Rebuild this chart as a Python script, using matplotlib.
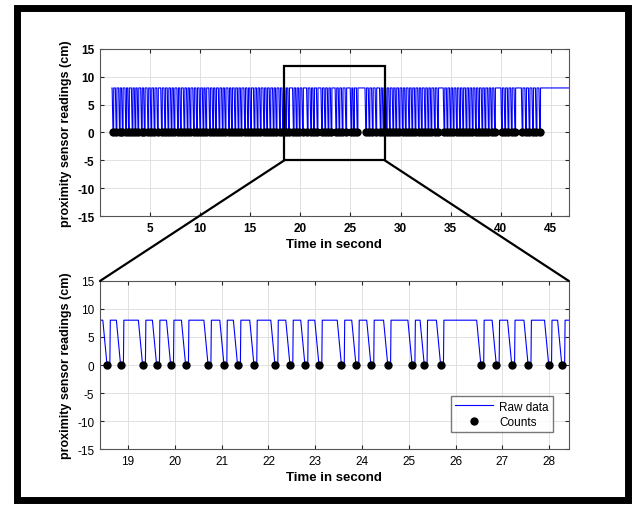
import numpy as np
import matplotlib
matplotlib.use('Agg')
import matplotlib.pyplot as plt
from matplotlib.patches import Rectangle, ConnectionPatch

plt.rcParams['font.family'] = ['Liberation Sans', 'DejaVu Sans']
plt.rcParams['axes.unicode_minus'] = False

# count events (s)
counts_a = [1.30, 1.62, 1.95, 2.24, 2.58, 2.86, 3.22, 3.51, 3.80, 4.15, 4.44,
            4.79, 5.10, 5.42, 5.75,
            6.15, 6.48, 6.80, 7.12, 7.41, 7.76, 8.05, 8.40, 8.72, 9.01, 9.35,
            9.66, 9.98, 10.30, 10.58, 10.95, 11.27, 11.56, 11.90, 12.22, 12.51,
            12.86, 13.15, 13.48, 13.80, 14.10, 14.45, 14.76, 15.05, 15.40,
            15.71, 16.02, 16.36, 16.66, 16.98, 17.31, 17.60, 17.94, 18.25]
counts_b = [18.55, 18.84, 19.31, 19.61, 19.91, 20.23, 20.71, 21.05, 21.34,
            21.69, 22.14, 22.46, 22.78, 23.08, 23.56, 23.87, 24.19, 24.55,
            25.07, 25.33, 25.68, 26.54, 26.87, 27.20, 27.55, 27.99, 28.27]
counts_c = [28.60, 28.91, 29.25, 29.55, 29.88, 30.20, 30.50, 30.84, 31.15,
            31.47, 31.80, 32.10, 32.45, 32.76, 33.06, 33.40, 33.72,
            34.35, 34.66, 34.98, 35.28, 35.60, 35.92, 36.23, 36.56, 36.87,
            37.18, 37.50, 37.81, 38.14, 38.45, 38.78, 39.08, 39.40,
            40.10, 40.42, 40.75, 41.08, 41.42,
            42.15, 42.50, 42.85, 43.20, 43.55, 43.90]
count_times = np.array(counts_a + counts_b + counts_c)

high_level = 8
t_start, t_end = 1.2, 48.0

# raw square signal: high, dropping to 0 at each count
raw_t = [t_start]
raw_v = [high_level]
for c in count_times:
    raw_t += [c - 0.09, c, c + 0.06, c + 0.07]
    raw_v += [high_level, 0, 0, high_level]
raw_t.append(t_end)
raw_v.append(high_level)

fig = plt.figure(figsize=(6.37, 5.1), dpi=100)
ax1 = fig.add_axes([0.157, 0.5745, 0.736, 0.3275])
ax2 = fig.add_axes([0.157, 0.1176, 0.736, 0.3295])

spine_col = '#262626'
for ax in (ax1, ax2):
    ax.plot(raw_t, raw_v, color='blue', lw=0.8, label='Raw data')
    ax.plot(count_times, np.zeros_like(count_times), 'o', color='k', ms=5,
            label='Counts')
    ax.set_ylim(-15, 15)
    ax.set_yticks(np.arange(-15, 16, 5))
    ax.grid(True, color='#dcdcdc', lw=0.6)
    ax.set_axisbelow(True)
    ax.tick_params(direction='in', top=True, right=True, length=3,
                   color=spine_col, labelsize=8.5, pad=4)
    for s in ax.spines.values():
        s.set_color('#555555')
        s.set_linewidth(0.8)

ax1.set_xlim(0, 46.8)
ax1.set_xticks(np.arange(5, 46, 5))
for lab in ax1.get_xticklabels() + ax1.get_yticklabels():
    lab.set_fontweight('bold')
ax1.set_xlabel('Time in second', fontsize=9.5, fontweight='bold', labelpad=3)
ax1.set_ylabel('proximity sensor readings (cm)', fontsize=9, fontweight='bold',
               labelpad=4)

zx0, zx1 = 18.4, 28.42
ax2.set_xlim(zx0, zx1)
ax2.set_xticks(np.arange(19, 29, 1))
ax2.set_xlabel('Time in second', fontsize=9.5, fontweight='bold', labelpad=3)
ax2.set_ylabel('proximity sensor readings (cm)', fontsize=9, fontweight='bold',
               labelpad=4)
ax2.legend(loc='lower right', bbox_to_anchor=(0.978, 0.065), fontsize=8.5,
           frameon=True, fancybox=False, edgecolor='#555555',
           borderpad=0.35, labelspacing=0.3, handlelength=3.2,
           handletextpad=0.5)

# zoom box and connectors
ax1.add_patch(Rectangle((zx0, -5), zx1 - zx0, 17, fill=False, ec='k',
                        lw=1.6, zorder=5, clip_on=False))
for xd, xa in ((zx0, 0), (zx1, 1)):
    cp = ConnectionPatch(xyA=(xd, -5), coordsA=ax1.transData,
                         xyB=(xa, 1), coordsB=ax2.transAxes,
                         color='k', lw=1.6, zorder=5)
    fig.add_artist(cp)

# outer black frame
fig.add_artist(Rectangle((16.5 / 637, 1 - 501 / 510), 611.5 / 637, 492 / 510,
                         transform=fig.transFigure, fill=False, ec='k',
                         lw=5.0))

fig.savefig('out.png', dpi=100)
plt.close()
